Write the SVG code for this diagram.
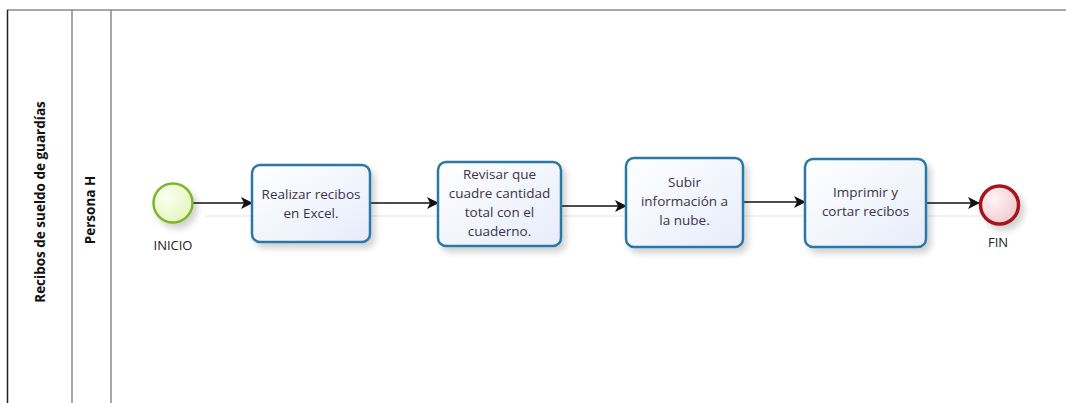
<svg xmlns="http://www.w3.org/2000/svg" width="1066" height="403" viewBox="0 0 1066 403">
<defs>
<linearGradient id="taskFill" x1="0" y1="0" x2="1" y2="1">
<stop offset="0" stop-color="#ffffff"/><stop offset="1" stop-color="#e6ecfa"/>
</linearGradient>
<radialGradient id="startFill" cx="0.35" cy="0.35" r="0.8">
<stop offset="0" stop-color="#fbfff0"/><stop offset="1" stop-color="#e2f3b8"/>
</radialGradient>
<radialGradient id="endFill" cx="0.35" cy="0.35" r="0.8">
<stop offset="0" stop-color="#fff4f6"/><stop offset="1" stop-color="#f2c2cb"/>
</radialGradient>
<filter id="shadow" x="-20%" y="-20%" width="150%" height="150%">
<feGaussianBlur in="SourceAlpha" stdDeviation="3"/>
<feOffset dx="4" dy="5" result="b"/>
<feComponentTransfer><feFuncA type="linear" slope="0.18"/></feComponentTransfer>
<feMerge><feMergeNode/><feMergeNode in="SourceGraphic"/></feMerge>
</filter>
<marker id="arrow" viewBox="0 0 12 12" refX="11" refY="6" markerWidth="12" markerHeight="12" markerUnits="userSpaceOnUse" orient="auto">
<path d="M0,0 L12,6 L0,12 L3,6 Z" fill="#111"/>
</marker>
</defs>
<style>
.lane{stroke:#8a8a8a;stroke-width:1.5;fill:none}
.task{fill:url(#taskFill);stroke:#2b78a6;stroke-width:2.5}
.ttxt{font-family:"Open Sans","Noto Sans",sans-serif;font-size:13.5px;fill:#3b3347;text-anchor:middle}
.lbl{font-family:"Open Sans","Noto Sans",sans-serif;font-size:13px;fill:#222;text-anchor:middle}
.title{font-family:"Open Sans","Noto Sans",sans-serif;font-size:13.5px;font-weight:bold;fill:#111;text-anchor:middle}
.conn{stroke:#111;stroke-width:1.5;fill:none;marker-end:url(#arrow)}
.shd{stroke:#eeeeee;stroke-width:1.5;fill:none}
</style>
<rect width="1066" height="403" fill="#ffffff"/>
<g id="pool">
<line x1="7" y1="10" x2="1066" y2="10" class="lane"/>
<line x1="7.5" y1="10" x2="7.5" y2="403" stroke="#222" stroke-width="1.5"/>
<line x1="72" y1="10" x2="72" y2="403" class="lane"/>
<line x1="111" y1="10" x2="111" y2="403" class="lane"/>
<text class="title" transform="translate(45,202) rotate(-90)">Recibos de sueldo de guardías</text>
<text class="title" transform="translate(95,210) rotate(-90)">Persona H</text>
</g>
<g id="connectors">
<line x1="205" y1="216" x2="980" y2="216" class="shd"/>
<line x1="193" y1="203" x2="252" y2="203" class="conn"/>
<line x1="370" y1="203" x2="438" y2="203" class="conn"/>
<line x1="561" y1="206" x2="626" y2="206" class="conn"/>
<line x1="743" y1="202" x2="805" y2="202" class="conn"/>
<line x1="926" y1="203" x2="979" y2="203" class="conn"/>
</g>
<g id="start">
<circle cx="173" cy="203" r="19.5" fill="url(#startFill)" stroke="#7ab72e" stroke-width="2.5" filter="url(#shadow)"/>
<text class="lbl" x="173" y="250">INICIO</text>
</g>
<g id="task1">
<rect x="252" y="165" width="118" height="77" rx="8" class="task" filter="url(#shadow)"/>
<text class="ttxt" x="311" y="199">Realizar recibos</text>
<text class="ttxt" x="311" y="218">en Excel.</text>
</g>
<g id="task2">
<rect x="438" y="162" width="123" height="84" rx="8" class="task" filter="url(#shadow)"/>
<text class="ttxt" x="499.5" y="179">Revisar que</text>
<text class="ttxt" x="499.5" y="198">cuadre cantidad</text>
<text class="ttxt" x="499.5" y="217">total con el</text>
<text class="ttxt" x="499.5" y="236">cuaderno.</text>
</g>
<g id="task3">
<rect x="626" y="158" width="117" height="89" rx="8" class="task" filter="url(#shadow)"/>
<text class="ttxt" x="684.5" y="187">Subir</text>
<text class="ttxt" x="684.5" y="206">información a</text>
<text class="ttxt" x="684.5" y="225">la nube.</text>
</g>
<g id="task4">
<rect x="805" y="159" width="121" height="88" rx="8" class="task" filter="url(#shadow)"/>
<text class="ttxt" x="865.5" y="197">Imprimir y</text>
<text class="ttxt" x="865.5" y="216">cortar recibos</text>
</g>
<g id="end">
<circle cx="999.5" cy="205" r="19" fill="url(#endFill)" stroke="#a3151c" stroke-width="3.5" filter="url(#shadow)"/>
<text class="lbl" x="998" y="247">FIN</text>
</g>
</svg>
